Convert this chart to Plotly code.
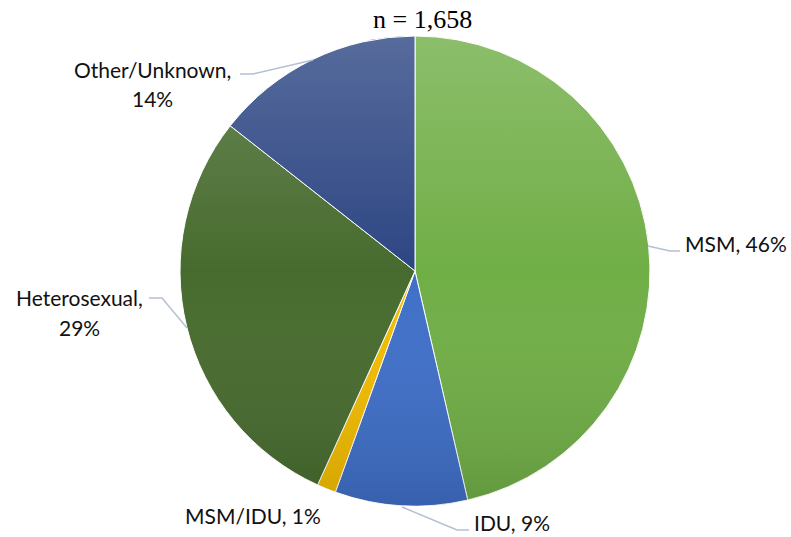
import urllib.parse

import plotly.graph_objects as go

W, H = 791, 537

labels = ["MSM", "IDU", "MSM/IDU", "Heterosexual", "Other/Unknown"]
shares = [46.4, 9.1, 1.3, 28.8, 14.4]
colors = ["#70AE46", "#3F6FC8", "#F2BC00", "#476B2E", "#2D4683"]
title_text = "n = 1,658"

# label placement in pixels (x, y of first line, anchor); two-line labels wrap after the comma
label_pos = {
    "MSM": (683, 244, "left", False),
    "IDU": (472, 522, "left", False),
    "MSM/IDU": (323, 515, "right", False),
    "Heterosexual": (79, 297, "center", True),
    "Other/Unknown": (152, 69, "center", True),
}
leaders = {
    "MSM": [(648, 246), (670, 251), (680, 251)],
    "IDU": [(402, 507), (457, 530), (469, 530)],
    "Heterosexual": [(149, 298), (162, 298), (187, 328)],
    "Other/Unknown": [(240, 74), (253, 74), (313, 60)],
}

cx, cy, r = 415, 271, 235
line_gap = 30


def px(x, y):
    return x / W, 1 - y / H


fig = go.Figure(
    go.Pie(
        labels=labels,
        values=shares,
        sort=False,
        direction="clockwise",
        rotation=0,
        marker=dict(colors=colors, line=dict(color="white", width=1)),
        textinfo="none",
        showlegend=False,
        domain=dict(x=[(cx - r) / W, (cx + r) / W], y=[1 - (cy + r) / H, 1 - (cy - r) / H]),
    )
)

# soft vertical shading over the disc, like the gradient fill in the original
shade = (
    "<svg xmlns='http://www.w3.org/2000/svg' width='100' height='100' viewBox='0 0 100 100'>"
    "<defs><linearGradient id='g' x1='0' y1='0' x2='0' y2='1'>"
    "<stop offset='0' stop-color='white' stop-opacity='0.2'/>"
    "<stop offset='0.5' stop-color='white' stop-opacity='0'/>"
    "<stop offset='1' stop-color='black' stop-opacity='0.13'/>"
    "</linearGradient></defs>"
    "<circle cx='50' cy='50' r='50' fill='url(#g)'/></svg>"
)
fig.add_layout_image(
    source="data:image/svg+xml;utf8," + urllib.parse.quote(shade),
    xref="paper", yref="paper", x=(cx - r) / W, y=1 - (cy - r) / H,
    sizex=2 * r / W, sizey=2 * r / H, sizing="stretch", layer="above",
    xanchor="left", yanchor="top",
)

font = dict(family="Lato", size=21, color="#111111")
for name, value in zip(labels, shares):
    x, y, align, wrap = label_pos[name]
    lines = [f"{name},", f"{value:.0f}%"] if wrap else [f"{name}, {value:.0f}%"]
    for i, line in enumerate(lines):
        ax, ay = px(x, y + i * line_gap)
        fig.add_annotation(
            x=ax, y=ay, xref="paper", yref="paper", text=line, showarrow=False,
            xanchor=align, yanchor="middle", font=font,
        )

for name, pts in leaders.items():
    path = "M " + " L ".join(f"{px(x, y)[0]},{px(x, y)[1]}" for x, y in pts)
    fig.add_shape(type="path", path=path, xref="paper", yref="paper",
                  line=dict(color="#B4C0D2", width=1.5))

tx, ty = px(422, 19)
fig.add_annotation(x=tx, y=ty, xref="paper", yref="paper", text=title_text,
                   showarrow=False, xanchor="center", yanchor="middle",
                   font=dict(family="Liberation Serif", size=26, color="#000000"))

fig.update_layout(width=W, height=H, margin=dict(l=0, r=0, t=0, b=0),
                  paper_bgcolor="white", plot_bgcolor="white")

fig.write_html("out.html", config={"displayModeBar": False},
               post_script="document.body.style.margin='0';")
